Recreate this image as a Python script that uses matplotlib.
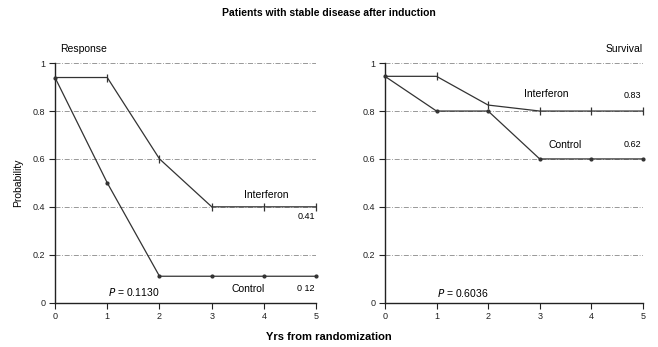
import matplotlib.pyplot as plt

plt.rcParams['font.family'] = ['Liberation Sans', 'DejaVu Sans']

# data
years = [0, 1, 2, 3, 4, 5]
resp_ifn = [0.94, 0.94, 0.60, 0.40, 0.40, 0.40]
resp_ctl = [0.94, 0.50, 0.11, 0.11, 0.11, 0.11]
surv_ifn = [0.945, 0.945, 0.825, 0.80, 0.80, 0.80]
surv_ctl = [0.945, 0.80, 0.80, 0.60, 0.60, 0.60]
yticks = [0, 0.2, 0.4, 0.6, 0.8, 1]
ytick_labels = ['0', '0.2', '0.4', '0.6', '0.8', '1']

fig = plt.figure(figsize=(6.58, 3.47), dpi=100)
ax1 = fig.add_axes([0.0836, 0.128, 0.397, 0.69])
ax2 = fig.add_axes([0.585, 0.128, 0.392, 0.69])

lc = '#333333'
for ax, ifn, ctl in [(ax1, resp_ifn, resp_ctl), (ax2, surv_ifn, surv_ctl)]:
    for y in yticks[1:]:
        ax.axhline(y, color='#888888', lw=0.6, ls=(0, (6, 2, 1, 2)), zorder=0)
    ax.plot(years, ifn, color=lc, lw=0.9, zorder=3, clip_on=False)
    ax.plot(years[1:], ifn[1:], ls='none', marker='|', ms=6, mew=0.9,
            color=lc, zorder=4, clip_on=False)
    ax.plot(years, ctl, color=lc, lw=0.9, marker='o', ms=2, zorder=3, clip_on=False)
    ax.set_xlim(0, 5)
    ax.set_ylim(0, 1)
    ax.set_xticks(years)
    ax.set_yticks(yticks)
    ax.set_yticklabels(ytick_labels)
    ax.tick_params(labelsize=6.5, length=4, width=0.8, colors='#222222', pad=3)
    for s in ['top', 'right']:
        ax.spines[s].set_visible(False)
    for s in ['left', 'bottom']:
        ax.spines[s].set_linewidth(1.0)
        ax.spines[s].set_color('#222222')

ax1.set_ylabel('Probability', fontsize=7.5, labelpad=7)
ax1.text(0.02, 1.04, 'Response', transform=ax1.transAxes, fontsize=7.5, ha='left', va='bottom')
ax2.text(1.0, 1.04, 'Survival', transform=ax2.transAxes, fontsize=7.5, ha='right', va='bottom')

fs = 7.5
ax1.text(4.05, 0.45, 'Interferon', fontsize=fs, ha='center', va='center')
ax1.text(4.97, 0.36, '0.41', fontsize=6.5, ha='right', va='center')
ax1.text(3.7, 0.057, 'Control', fontsize=fs, ha='center', va='center')
ax1.text(4.97, 0.057, '0 12', fontsize=6.5, ha='right', va='center')
ax1.text(1.5, 0.045, r'$\it{P}$ = 0.1130', fontsize=fs, ha='center', va='center')

ax2.text(3.12, 0.87, 'Interferon', fontsize=fs, ha='center', va='center')
ax2.text(4.97, 0.865, '0.83', fontsize=6.5, ha='right', va='center')
ax2.text(3.5, 0.657, 'Control', fontsize=fs, ha='center', va='center')
ax2.text(4.97, 0.66, '0.62', fontsize=6.5, ha='right', va='center')
ax2.text(1.5, 0.04, r'$\it{P}$ = 0.6036', fontsize=fs, ha='center', va='center')

fig.text(0.5, 0.962, 'Patients with stable disease after induction', fontsize=7.5,
         fontweight='bold', ha='center', va='center')
fig.text(0.5, 0.03, 'Yrs from randomization', fontsize=8, fontweight='bold',
         ha='center', va='center')

fig.savefig('out.png', dpi=100)
